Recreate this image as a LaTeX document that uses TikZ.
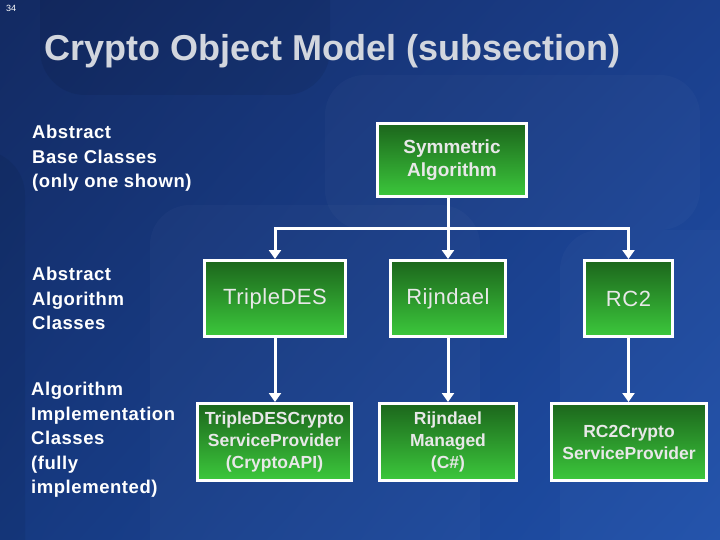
\documentclass[tikz,border=0pt]{standalone}
\usepackage{fontspec}
\setmainfont{Liberation Sans}
\usetikzlibrary{arrows.meta,shadings}
\definecolor{bgA}{HTML}{132A62}
\definecolor{bgB}{HTML}{1B3F8C}
\definecolor{bgC}{HTML}{163980}
\definecolor{bgD}{HTML}{1F50AA}
\definecolor{grtop}{HTML}{1C661C}
\definecolor{grbot}{HTML}{3CC83C}
\definecolor{boxtext}{HTML}{E8E8E8}
\definecolor{titlec}{HTML}{D2D6DE}
\begin{document}
\begin{tikzpicture}[x=1pt,y=-1pt,
  box/.style={draw=white,line width=3pt,top color=grtop,bottom color=grbot,inner sep=2pt,align=center,text=boxtext},
  midtext/.style={font=\fontsize{22}{24}\selectfont\addfontfeature{LetterSpace=2.5}},
  lowtext/.style={font=\fontsize{17.5}{22}\selectfont\bfseries},
  line/.style={draw=white,line width=3pt},
  conn/.style={draw=white,line width=3pt,-{Triangle[width=12pt,length=9pt]}},
  lbl/.style={anchor=north west,inner sep=0pt,align=left,text=white,font=\fontsize{18.5}{24.5}\selectfont\bfseries\addfontfeature{LetterSpace=3}}]
\useasboundingbox (0,0) rectangle (720,540);
% background
\shade[upper left=bgA,upper right=bgB,lower left=bgC,lower right=bgD] (0,0) rectangle (720,540);
\fill[black,opacity=0.07,rounded corners=45pt] (40,-60) rectangle (330,95);
\fill[black,opacity=0.06,rounded corners=45pt] (-60,150) rectangle (25,600);
\fill[white,opacity=0.025,rounded corners=40pt] (325,75) rectangle (700,230);
\fill[white,opacity=0.025,rounded corners=40pt] (150,205) rectangle (480,600);
\fill[white,opacity=0.025,rounded corners=40pt] (560,230) rectangle (760,600);
% page number
\node[anchor=north west,inner sep=0pt,text=white,font=\fontsize{9}{10}\selectfont] (pg) at (6,5) {34};
% title
\node[anchor=base west,inner sep=0pt,text=titlec,font=\fontsize{36}{40}\selectfont\bfseries] (title) at (44,61) {Crypto Object Model (subsection)};
% left labels
\node[lbl] (l1) at (32,125) {Abstract\\Base Classes\\(only one shown)};
\node[lbl] (l2) at (32,267) {Abstract\\Algorithm\\Classes};
\node[lbl] (l3) at (31,382) {Algorithm\\Implementation\\Classes\\(fully\\implemented)};
% boxes
\node[box,minimum width=149pt,minimum height=73pt,font=\fontsize{19}{23}\selectfont\bfseries] (sym) at (452,160.5) {Symmetric\\Algorithm};
\node[box,midtext,minimum width=141pt,minimum height=76pt] (tdes) at (275,298.5) {TripleDES};
\node[box,midtext,minimum width=115pt,minimum height=76pt] (rij) at (448,298.5) {Rijndael};
\node[box,midtext,minimum width=88pt,minimum height=76pt] (rc2) at (628.5,298.5) {RC2};
\node[box,lowtext,minimum width=154pt,minimum height=77pt] (tdescsp) at (274.5,442) {TripleDESCrypto\\ServiceProvider\\(CryptoAPI)};
\node[box,lowtext,minimum width=137pt,minimum height=77pt] (rm) at (448,442) {Rijndael\\Managed\\(C\#)};
\node[box,lowtext,minimum width=155pt,minimum height=77pt] (rc2csp) at (629,442) {RC2Crypto\\ServiceProvider};
% connectors
\coordinate (j) at (448,229);
\draw[line] (sym.south -| j) -- (j);
\draw[conn] (j) -- (rij.north);
\draw[conn] (j) -| (tdes.north);
\draw[conn] (j) -| (rc2.north);
\draw[conn] (tdes.south) -- (tdes.south |- tdescsp.north);
\draw[conn] (rij.south) -- (rm.north);
\draw[conn] (rc2.south) -- (rc2.south |- rc2csp.north);
\end{tikzpicture}
\end{document}
